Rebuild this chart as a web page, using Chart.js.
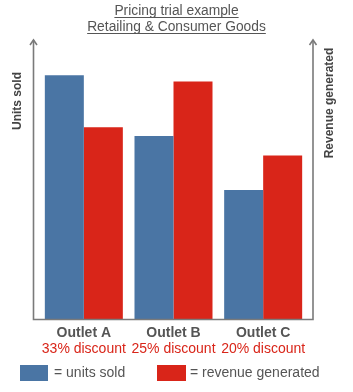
<!DOCTYPE html>
<html>
<head>
<meta charset="utf-8">
<script src="https://cdn.jsdelivr.net/npm/chart.js@4/dist/chart.umd.min.js"></script>
<style>
  html, body { margin: 0; padding: 0; background: #ffffff; }
  #wrap { position: relative; width: 353px; height: 392px; }
</style>
</head>
<body>
<div id="wrap"><canvas id="c" width="353" height="392"></canvas></div>
<script>
const titleLines = ["Pricing trial example", "Retailing & Consumer Goods"];
const categories = ["Outlet A", "Outlet B", "Outlet C"];
const discounts = ["33% discount", "25% discount", "20% discount"];
const seriesNames = ["= units sold", "= revenue generated"];
const unitsSold = [89, 66.8, 47.1];
const revenueGenerated = [70, 86.7, 59.7];
const axisTitles = ["Units sold", "Revenue generated"];

const BLUE = "#4a75a4";
const RED = "#d92519";
const GREY = "#555555";
const AXIS = "#7a7a7a";
const FONT = '"Liberation Sans", Arial, Helvetica, sans-serif';

const decor = {
  id: "decor",
  afterDraw(chart) {
    const ctx = chart.ctx;
    const a = chart.chartArea;
    const xs = chart.scales.x;
    ctx.save();

    // Title (underlined)
    ctx.fillStyle = GREY;
    ctx.strokeStyle = GREY;
    ctx.lineWidth = 1;
    ctx.font = "13.8px " + FONT;
    ctx.textAlign = "center";
    ctx.textBaseline = "alphabetic";
    const tys = [15, 31];
    titleLines.forEach((t, i) => {
      const cx = 176.5;
      ctx.fillText(t, cx, tys[i]);
      const w = ctx.measureText(t).width;
      ctx.beginPath();
      ctx.moveTo(cx - w / 2, tys[i] + 2.5);
      ctx.lineTo(cx + w / 2, tys[i] + 2.5);
      ctx.stroke();
    });

    // Axes with arrows
    const lx = a.left - 5.5, rx = a.right + 5, by = a.bottom + 0.5, ty = a.top - 5;
    ctx.strokeStyle = AXIS;
    ctx.lineWidth = 1.6;
    ctx.beginPath();
    ctx.moveTo(lx, ty); ctx.lineTo(lx, by); ctx.lineTo(rx, by); ctx.lineTo(rx, ty);
    ctx.stroke();
    [lx, rx].forEach(x => {
      ctx.beginPath();
      ctx.moveTo(x - 3.5, ty + 5);
      ctx.lineTo(x, ty);
      ctx.lineTo(x + 3.5, ty + 5);
      ctx.stroke();
    });

    // Axis titles
    ctx.fillStyle = "#444444";
    ctx.font = "bold 12px " + FONT;
    ctx.textAlign = "center";
    ctx.textBaseline = "middle";
    ctx.save();
    ctx.translate(18, 101);
    ctx.rotate(-Math.PI / 2);
    ctx.fillText(axisTitles[0], 0, 0);
    ctx.restore();
    ctx.save();
    ctx.translate(330, 103);
    ctx.rotate(-Math.PI / 2);
    ctx.fillText(axisTitles[1], 0, 0);
    ctx.restore();

    // Category labels
    categories.forEach((c, i) => {
      const x = xs.getPixelForValue(i);
      ctx.fillStyle = GREY;
      ctx.font = "bold 14px " + FONT;
      ctx.fillText(c, x, 333);
      ctx.fillStyle = RED;
      ctx.font = "14px " + FONT;
      ctx.fillText(discounts[i], x, 349);
    });

    // Legend
    const items = [
      { box: [20, 365, 28, 16], tx: 54 },
      { box: [157, 365, 29, 16], tx: 190 }
    ];
    chart.data.datasets.forEach((ds, i) => {
      const it = items[i];
      ctx.fillStyle = ds.backgroundColor;
      ctx.fillRect(...it.box);
      ctx.fillStyle = GREY;
      ctx.font = "14px " + FONT;
      ctx.textAlign = "left";
      ctx.textBaseline = "middle";
      ctx.fillText(ds.label, it.tx, 373.5);
    });

    ctx.restore();
  }
};

new Chart(document.getElementById("c"), {
  type: "bar",
  data: {
    labels: categories,
    datasets: [
      { label: seriesNames[0], data: unitsSold, backgroundColor: BLUE, yAxisID: "y" },
      { label: seriesNames[1], data: revenueGenerated, backgroundColor: RED, yAxisID: "y1" }
    ]
  },
  options: {
    responsive: false,
    animation: false,
    devicePixelRatio: 1,
    layout: { padding: { left: 39, right: 45, top: 45, bottom: 73 } },
    datasets: { bar: { categoryPercentage: 0.87, barPercentage: 1.0, borderWidth: 0 } },
    plugins: { legend: { display: false }, title: { display: false }, tooltip: { enabled: false } },
    scales: {
      x: { display: false, offset: true, grid: { display: false } },
      y: { display: false, min: 0, max: 100 },
      y1: { display: false, min: 0, max: 100, position: "right" }
    }
  },
  plugins: [decor]
});
</script>
</body>
</html>
